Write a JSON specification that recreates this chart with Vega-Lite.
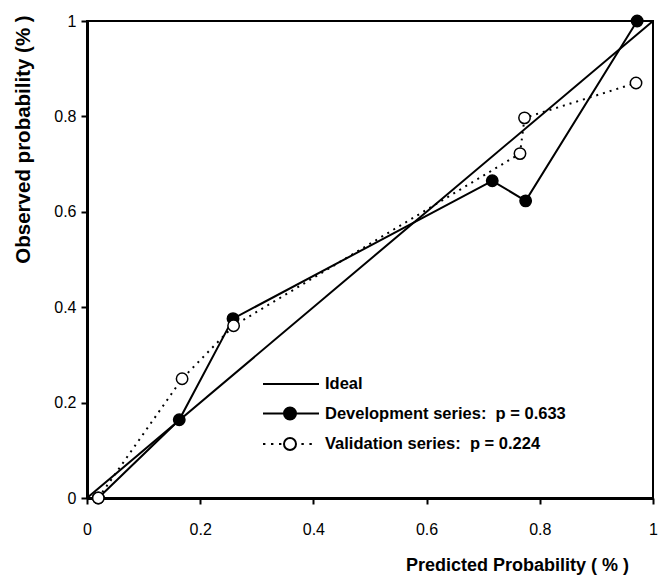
{
  "$schema": "https://vega.github.io/schema/vega-lite/v6.json",
  "width": 566,
  "height": 477,
  "autosize": "none",
  "padding": {"left": 87, "top": 21, "right": 5, "bottom": 77},
  "background": "white",
  "config": {
    "view": {"stroke": "black", "strokeWidth": 2},
    "axis": {
      "grid": false,
      "labelFlush": false,
      "domainColor": "black",
      "domainWidth": 3,
      "tickColor": "black",
      "tickWidth": 2,
      "tickSize": 6,
      "labelFont": "Liberation Sans",
      "labelFontSize": 16,
      "labelColor": "black",
      "titleFont": "Liberation Sans",
      "titleFontWeight": "bold",
      "titleColor": "black"
    }
  },
  "data": {
    "values": [
      {"series": "Ideal", "x": 0, "y": 0},
      {"series": "Ideal", "x": 1, "y": 1},
      {"series": "Development series:\u00a0 p = 0.633", "x": 0.02, "y": 0},
      {"series": "Development series:\u00a0 p = 0.633", "x": 0.163, "y": 0.164},
      {"series": "Development series:\u00a0 p = 0.633", "x": 0.258, "y": 0.376},
      {"series": "Development series:\u00a0 p = 0.633", "x": 0.716, "y": 0.665},
      {"series": "Development series:\u00a0 p = 0.633", "x": 0.775, "y": 0.623},
      {"series": "Development series:\u00a0 p = 0.633", "x": 0.972, "y": 1.0},
      {"series": "Validation series:\u00a0 p = 0.224", "x": 0.02, "y": 0},
      {"series": "Validation series:\u00a0 p = 0.224", "x": 0.168, "y": 0.25},
      {"series": "Validation series:\u00a0 p = 0.224", "x": 0.259, "y": 0.361},
      {"series": "Validation series:\u00a0 p = 0.224", "x": 0.765, "y": 0.722},
      {"series": "Validation series:\u00a0 p = 0.224", "x": 0.773, "y": 0.797},
      {"series": "Validation series:\u00a0 p = 0.224", "x": 0.97, "y": 0.87}
    ]
  },
  "encoding": {
    "x": {
      "field": "x", "type": "quantitative",
      "scale": {"domain": [0, 1], "nice": false, "zero": false},
      "axis": {
        "values": [0, 0.2, 0.4, 0.6, 0.8, 1], "format": "~g",
        "labelPadding": 17,
        "title": "Predicted Probability ( % )",
        "titleFontSize": 18,
        "titleX": 430, "titleY": 67, "titleAlign": "center", "titleBaseline": "middle"
      }
    },
    "y": {
      "field": "y", "type": "quantitative",
      "scale": {"domain": [0, 1], "nice": false, "zero": false},
      "axis": {
        "values": [0, 0.2, 0.4, 0.6, 0.8, 1], "format": "~g",
        "labelPadding": 5,
        "title": "Observed probability (% )",
        "titleFontSize": 20.5,
        "titleX": -64, "titleY": 118, "titleAngle": -90, "titleAlign": "center", "titleBaseline": "middle"
      }
    }
  },
  "layer": [
    {
      "transform": [{"filter": "slice(datum.series,0,3) !== 'Val'"}],
      "mark": {"type": "line", "strokeWidth": 2},
      "encoding": {
        "color": {
          "field": "series", "type": "nominal",
          "scale": {
            "domain": ["Ideal", "Development series:\u00a0 p = 0.633", "Validation series:\u00a0 p = 0.224"],
            "range": ["black", "black", "black"]
          },
          "legend": {
            "orient": "none",
            "legendX": 215,
            "legendY": 354,
            "title": null,
            "padding": 0,
            "symbolSize": 256,
            "symbolStrokeColor": "black",
            "symbolStrokeWidth": 2,
            "rowPadding": 10.5,
            "labelOffset": 5,
            "labelFont": "Liberation Sans",
            "labelFontWeight": "bold",
            "labelFontSize": 16.5,
            "labelColor": "black",
            "labelLimit": 400,
            "encode": {
              "symbols": {
                "update": {
                  "shape": {"signal": "datum.value === 'Ideal' ? 'M-6,0H1' : (slice(datum.value,0,3) === 'Dev' ? 'M-6,0H-3.375A0.75,0.75,0,1,1,-1.875,0A0.75,0.75,0,1,1,-3.375,0M-1.875,0H1' : 'M-6,0h0.3M-5,0h0.3M-4,0h0.3M-3.375,0A0.75,0.75,0,1,1,-1.875,0A0.75,0.75,0,1,1,-3.375,0M-1.2,0h0.3M-0.2,0h0.3')"},
                  "fill": {"signal": "datum.value === 'Ideal' ? 'transparent' : (slice(datum.value,0,3) === 'Dev' ? 'black' : 'white')"},
                  "fillOpacity": {"value": 1},
                  "stroke": {"value": "black"}
                }
              }
            }
          }
        }
      }
    },
    {
      "transform": [{"filter": "slice(datum.series,0,3) === 'Val'"}],
      "mark": {"type": "line", "strokeWidth": 2, "color": "black", "strokeDash": [2, 5]},
      "encoding": {}
    },
    {
      "transform": [{"filter": "datum.series !== 'Ideal'"}],
      "mark": {"type": "point", "shape": "circle", "size": 130, "stroke": "black", "strokeWidth": 1.5, "opacity": 1, "filled": false},
      "encoding": {
        "fill": {
          "field": "series", "type": "nominal",
          "scale": {
            "domain": ["Development series:\u00a0 p = 0.633", "Validation series:\u00a0 p = 0.224"],
            "range": ["black", "white"]
          },
          "legend": null
        }
      }
    }
  ]
}
